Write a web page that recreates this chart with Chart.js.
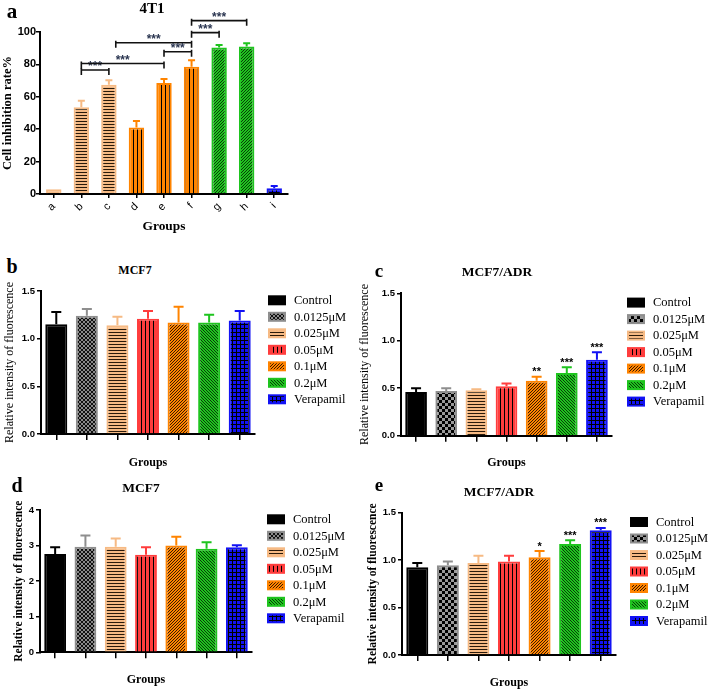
<!DOCTYPE html>
<html>
<head>
<meta charset="utf-8">
<script src="https://cdn.jsdelivr.net/npm/chart.js@4.4.1/dist/chart.umd.min.js"></script>
<style>
body { margin: 0; background: #fff; }
#page { position: relative; width: 708px; height: 691px; overflow: hidden; background: #fff; }
#page canvas { position: absolute; }
.lbl { position: absolute; font-family: 'Liberation Serif', serif; font-weight: bold; color: #000;
       white-space: nowrap; line-height: 1; transform: translate(-50%, -50%); }
</style>
</head>
<body>
<div id="page">
  <canvas id="chartA" width="300" height="240" style="left:0;top:0"></canvas>
  <canvas id="chartB" width="355" height="192" style="left:0;top:280px"></canvas>
  <canvas id="chartC" width="353" height="192" style="left:355px;top:280px"></canvas>
  <canvas id="chartD" width="355" height="211" style="left:0;top:480px"></canvas>
  <canvas id="chartE" width="353" height="211" style="left:355px;top:480px"></canvas>

  <div class="lbl" style="left:12px;top:11px;font-size:21px">a</div>
  <div class="lbl" style="left:152px;top:8px;font-size:15px">4T1</div>
  <div class="lbl" style="left:12px;top:266px;font-size:20px">b</div>
  <div class="lbl" style="left:135px;top:270px;font-size:12px">MCF7</div>
  <div class="lbl" style="left:379px;top:270px;font-size:19px">c</div>
  <div class="lbl" style="left:497px;top:272px;font-size:13.5px">MCF7/ADR</div>
  <div class="lbl" style="left:17px;top:485px;font-size:20px">d</div>
  <div class="lbl" style="left:141px;top:488px;font-size:13.5px">MCF7</div>
  <div class="lbl" style="left:379px;top:484px;font-size:19px">e</div>
  <div class="lbl" style="left:499px;top:492px;font-size:13.5px">MCF7/ADR</div>
</div>
<script>
// ---- data: panel a (4T1 cell inhibition) ----
const groupsA = ['a', 'b', 'c', 'd', 'e', 'f', 'g', 'h', 'i'];
const inhibitionA = [3, 53.5, 67.5, 41, 68.5, 78.5, 90.5, 91, 3.5];
const inhibitionErrA = [0, 4, 2.7, 4, 2.5, 4, 1.5, 2, 1.5];
const yTicksA = [0, 20, 40, 60, 80, 100];
// significance brackets (category index from / to, height in %)
const bracketFromA = [1, 1, 2.25, 4, 5, 5];
const bracketToA = [2, 4, 5, 5, 6, 7];
const bracketLevelA = [76.5, 80.6, 93.4, 87.8, 99.6, 107];
const bracketMarkA = ['***', '***', '***', '***', '***', '***'];

// ---- data: panels b-e (relative fluorescence) ----
const doses = ['Control', '0.0125μM', '0.025μM', '0.05μM', '0.1μM', '0.2μM', 'Verapamil'];
const mcf7B = [1.15, 1.24, 1.14, 1.21, 1.17, 1.17, 1.19];
const mcf7ErrB = [0.13, 0.07, 0.09, 0.08, 0.165, 0.08, 0.10];
const adrC = [0.46, 0.47, 0.48, 0.52, 0.58, 0.66, 0.80];
const adrErrC = [0.04, 0.03, 0.01, 0.03, 0.04, 0.06, 0.08];
const adrMarkC = ['', '', '', '', '**', '***', '***'];
const mcf7D = [2.76, 2.97, 2.97, 2.74, 3.00, 2.91, 2.95];
const mcf7ErrD = [0.19, 0.31, 0.23, 0.21, 0.25, 0.18, 0.06];
const adrE = [0.925, 0.945, 0.97, 0.985, 1.03, 1.17, 1.315];
const adrErrE = [0.045, 0.04, 0.075, 0.06, 0.065, 0.04, 0.025];
const adrMarkE = ['', '', '', '', '*', '***', '***'];
const yTicksFluo = [0, 0.5, 1.0, 1.5];
const yTicksD = [0, 1, 2, 3, 4];

// ---- colours / fills ----
const TAN = '#F6BA84', ORANGE = '#FF8400', GREEN = '#1EC41E', RED = '#FF3D3D',
      BLUE = '#1212F4', GREY = '#8E8E8E', BLACK = '#000000';

function pattern(kind, base, line) {
  const n = {h: 3, v: 4, dr: 3, dl: 3, grid: 4, cross: 4, checker: 6}[kind];
  const c = document.createElement('canvas');
  c.width = c.height = n;
  const g = c.getContext('2d');
  g.fillStyle = base; g.fillRect(0, 0, n, n);
  g.fillStyle = line; g.strokeStyle = line; g.lineWidth = 1;
  const diag = (dir) => {
    g.beginPath();
    for (let k = -1; k <= 1; k++) {
      if (dir > 0) { g.moveTo(k * n, n); g.lineTo(k * n + n, 0); }
      else { g.moveTo(k * n, 0); g.lineTo(k * n + n, n); }
    }
    g.stroke();
  };
  if (kind === 'h') g.fillRect(0, 1, n, 1);
  else if (kind === 'v') g.fillRect(1, 0, 1, n);
  else if (kind === 'dr') diag(1);
  else if (kind === 'dl') diag(-1);
  else if (kind === 'grid') { g.fillRect(0, 0, n, 1); g.fillRect(0, 0, 1, n); }
  else if (kind === 'cross') { diag(1); diag(-1); }
  else if (kind === 'checker') { g.fillRect(0, 0, n / 2, n / 2); g.fillRect(n / 2, n / 2, n / 2, n / 2); }
  return g.createPattern(c, 'repeat');
}

const borderA = [TAN, TAN, TAN, ORANGE, ORANGE, ORANGE, GREEN, GREEN, BLUE];
const fillA = [pattern('h', TAN, '#2a1a0a'), pattern('h', TAN, '#2a1a0a'), pattern('h', TAN, '#2a1a0a'),
               pattern('v', ORANGE, '#000'), pattern('v', ORANGE, '#000'), pattern('v', ORANGE, '#000'),
               pattern('dr', GREEN, '#0a3a0a'), pattern('dr', GREEN, '#0a3a0a'), pattern('grid', BLUE, '#000')];
const doseBorder = [BLACK, GREY, TAN, RED, ORANGE, GREEN, BLUE];
function doseFills(second) {
  return [BLACK,
          second === 'checker' ? pattern('checker', '#9a9a9a', '#000') : pattern('cross', '#8a8a8a', '#111'),
          pattern('h', TAN, '#2a1a0a'), pattern('v', RED, '#000'),
          pattern('dr', ORANGE, '#3a1a00'), pattern('dl', GREEN, '#0a3a0a'), pattern('grid', BLUE, '#000')];
}

const LEG_FONT = 12.5;

// ---- plugins ----
function errorBars(errs, marks, capWidth) {
  return {
    id: 'errorBars',
    afterDatasetsDraw(chart) {
      const ctx = chart.ctx, y = chart.scales.y;
      const ds = chart.data.datasets[0];
      const meta = chart.getDatasetMeta(0);
      ctx.save();
      meta.data.forEach((bar, i) => {
        const top = y.getPixelForValue(ds.data[i] + errs[i]);
        if (errs[i] > 0) {
          ctx.strokeStyle = ds.borderColor[i];
          ctx.lineWidth = 2;
          ctx.beginPath();
          ctx.moveTo(bar.x, bar.y);
          ctx.lineTo(bar.x, top);
          ctx.moveTo(bar.x - capWidth / 2, top);
          ctx.lineTo(bar.x + capWidth / 2, top);
          ctx.stroke();
        }
        if (marks && marks[i]) {
          ctx.fillStyle = '#000';
          ctx.font = 'bold 11px "Liberation Sans"';
          ctx.textAlign = 'center';
          ctx.textBaseline = 'bottom';
          ctx.fillText(marks[i], bar.x, top + 1);
        }
      });
      ctx.restore();
    }
  };
}

// legend at the right of the plot, one row per group
function sideLegend(lay) {
  return {
    id: 'sideLegend',
    afterDraw(chart) {
      const ctx = chart.ctx, ds = chart.data.datasets[0], top = chart.chartArea.top;
      ctx.save();
      ctx.font = LEG_FONT + 'px "Liberation Serif"';
      ctx.textAlign = 'left';
      ctx.textBaseline = 'middle';
      chart.data.labels.forEach((t, i) => {
        const cy = top + 9.3 + i * 16.5;
        ctx.fillStyle = ds.backgroundColor[i];
        ctx.fillRect(lay.legendLeft, cy - 4, 16, 8);
        ctx.strokeStyle = ds.borderColor[i];
        ctx.lineWidth = 2;
        ctx.strokeRect(lay.legendLeft, cy - 4, 16, 8);
        ctx.fillStyle = '#000';
        ctx.fillText(t, lay.legendLeft + 25, cy + 0.5);
      });
      ctx.restore();
    }
  };
}

const bracketsA = {
  id: 'brackets',
  afterDraw(chart) {
    const ctx = chart.ctx, x = chart.scales.x, y = chart.scales.y;
    ctx.save();
    ctx.strokeStyle = '#111';
    ctx.lineWidth = 1.6;
    bracketLevelA.forEach((lvl, i) => {
      const x0 = x.getPixelForValue(bracketFromA[i]);
      const x1 = x.getPixelForValue(bracketToA[i]);
      const yy = y.getPixelForValue(lvl);
      ctx.beginPath();
      ctx.moveTo(x0, yy - 2); ctx.lineTo(x0, yy + 5);
      ctx.moveTo(x1, yy - 2); ctx.lineTo(x1, yy + 5);
      ctx.moveTo(x0, yy); ctx.lineTo(x1, yy);
      ctx.stroke();
      ctx.fillStyle = '#2a3550';
      ctx.font = 'bold 12px "Liberation Sans"';
      ctx.textAlign = 'center';
      ctx.textBaseline = 'bottom';
      ctx.fillText(bracketMarkA[i], (x0 + x1) / 2, yy + 3);
    });
    ctx.restore();
  }
};

// ---- panel a ----
new Chart(document.getElementById('chartA'), {
  type: 'bar',
  data: {
    labels: groupsA,
    datasets: [{
      data: inhibitionA,
      backgroundColor: fillA,
      borderColor: borderA,
      borderWidth: 2,
      barPercentage: 0.56,
      categoryPercentage: 1
    }]
  },
  options: {
    responsive: false,
    animation: false,
    layout: {padding: {top: 32, left: 0, right: 12, bottom: 0}},
    plugins: {legend: {display: false}, tooltip: {enabled: false}},
    scales: {
      x: {
        ticks: {color: '#000', font: {family: 'Liberation Sans', size: 11}, minRotation: 45, maxRotation: 45, padding: 2, autoSkip: false},
        grid: {drawOnChartArea: false, drawTicks: true, tickLength: 4, offset: false, color: '#000', lineWidth: 1.5},
        border: {display: true, color: '#000', width: 2},
        title: {display: true, text: 'Groups', color: '#000', font: {family: 'Liberation Serif', size: 13.4, weight: 'bold'}, padding: {top: 0, bottom: 5}},
        afterFit(s) { s.height = 46; }
      },
      y: {
        min: 0, max: 100,
        afterBuildTicks(s) { s.ticks = yTicksA.map(v => ({value: v})); },
        ticks: {color: '#000', font: {family: 'Liberation Sans', size: 11, weight: 'bold'}, padding: 0},
        grid: {drawOnChartArea: false, drawTicks: true, tickLength: 4, color: '#000', lineWidth: 1.5},
        border: {display: true, color: '#000', width: 2},
        title: {display: true, text: 'Cell inhibition rate%', color: '#000', font: {family: 'Liberation Serif', size: 12.5, weight: 'bold'}, padding: {top: 0, bottom: 0}},
        afterFit(s) { s.width = 40; }
      }
    }
  },
  plugins: [errorBars(inhibitionErrA, null, 7), bracketsA]
});

// ---- panels b-e ----
function makePanel(id, values, errs, marks, yTicks, decimals, lay) {
  const canvas = document.getElementById(id);
  return new Chart(canvas, {
    type: 'bar',
    data: {
      labels: doses,
      datasets: [{
        data: values,
        backgroundColor: doseFills(lay.second),
        borderColor: doseBorder,
        borderWidth: 2,
        barPercentage: 0.72,
        categoryPercentage: 1
      }]
    },
    options: {
      responsive: false,
      animation: false,
      layout: {padding: {top: lay.padTop, left: 0, right: canvas.width - lay.chartRight, bottom: 0}},
      plugins: {legend: {display: false}, tooltip: {enabled: false}},
      scales: {
        x: {
          ticks: {display: false},
          grid: {drawOnChartArea: false, drawTicks: true, tickLength: 6, offset: false, color: '#000', lineWidth: 1.5},
          border: {display: true, color: '#000', width: 2},
          title: {display: true, text: 'Groups', color: '#000', font: {family: 'Liberation Serif', size: 12, weight: 'bold'}, padding: {top: 0, bottom: lay.xTitlePad}},
          afterFit(s) { s.height = lay.xHeight; }
        },
        y: {
          min: 0, max: yTicks[yTicks.length - 1],
          afterBuildTicks(s) { s.ticks = yTicks.map(v => ({value: v})); },
          ticks: {color: '#000', font: {family: 'Liberation Sans', size: 9.5, weight: 'bold'}, padding: 2,
                  callback: v => v.toFixed(decimals)},
          grid: {drawOnChartArea: false, drawTicks: true, tickLength: 4, color: '#000', lineWidth: 1.5},
          border: {display: true, color: '#000', width: 2},
          title: {display: true, text: 'Relative intensity of fluorescence', color: '#000',
                  font: {family: 'Liberation Serif', size: lay.titleSize, weight: lay.titleWeight}, padding: {top: lay.yTitlePad, bottom: 0}},
          afterFit(s) { s.width = lay.yWidth; }
        }
      }
    },
    plugins: [errorBars(errs, marks, 10), sideLegend(lay)]
  });
}

makePanel('chartB', mcf7B, mcf7ErrB, null, yTicksFluo, 1,
  {second: 'cross', padTop: 11, chartRight: 255, legendLeft: 269, yWidth: 41, xHeight: 38, xTitlePad: 1.8, yTitlePad: 2.8, titleSize: 12, titleWeight: 'normal'});
makePanel('chartC', adrC, adrErrC, adrMarkC, yTicksFluo, 1,
  {second: 'checker', padTop: 13.3, chartRight: 257, legendLeft: 273, yWidth: 46, xHeight: 36.3, xTitlePad: 1.8, yTitlePad: 2.8, titleSize: 12, titleWeight: 'normal'});
makePanel('chartD', mcf7D, mcf7ErrD, null, yTicksD, 0,
  {second: 'cross', padTop: 30, chartRight: 252, legendLeft: 268, yWidth: 40, xHeight: 38.7, xTitlePad: 3.8, yTitlePad: 12, titleSize: 11.5, titleWeight: 'bold'});
makePanel('chartE', adrE, adrErrE, adrMarkE, yTicksFluo, 1,
  {second: 'checker', padTop: 32.7, chartRight: 261, legendLeft: 276, yWidth: 47, xHeight: 36, xTitlePad: 0.8, yTitlePad: 11, titleSize: 11.5, titleWeight: 'bold'});
</script>
</body>
</html>
